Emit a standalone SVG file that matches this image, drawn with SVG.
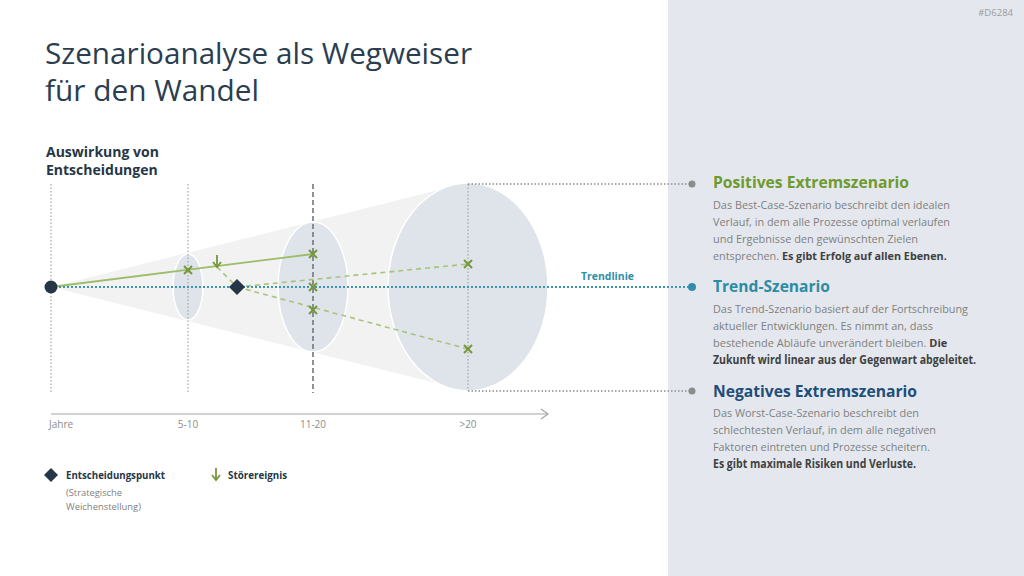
<svg xmlns="http://www.w3.org/2000/svg" width="1024" height="576" viewBox="0 0 1024 576">
<style>
.t{font-family:"Open Sans","Liberation Sans",sans-serif}
.title{font-size:29.5px;fill:#2B3E50}
.h{font-size:14px;font-weight:bold;fill:#253746}
.ax{font-size:10px;fill:#8C8C8C}
.body{font-size:11.5px;fill:#7F7F7F}
.b{font-weight:bold;fill:#404040}
.sh{font-size:16.5px;font-weight:bold}
.vdot{stroke:#A6A6A6;stroke-width:1.2;stroke-dasharray:1.5 2;fill:none}
.hdot{stroke:#8C8C8C;stroke-width:1.3;stroke-dasharray:1.5 2;fill:none}
.ell{fill:#DFE4EB;stroke:#FFFFFF;stroke-width:1.5}
.cross{stroke:#76963A;stroke-width:2}
.gd{stroke:#A9C47A;stroke-width:1.6;stroke-dasharray:5 4;fill:none}
</style>
<defs>
<g id="x"><line class="cross" x1="-4" y1="-4" x2="4" y2="4"/><line class="cross" x1="-4" y1="4" x2="4" y2="-4"/></g>
<g id="arr"><line x1="0" y1="0" x2="0" y2="12" stroke="#76963A" stroke-width="1.8"/><polyline points="-4,7 0,12 4,7" fill="none" stroke="#76963A" stroke-width="1.8"/></g>
</defs>
<rect x="0" y="0" width="1024" height="576" fill="#FFFFFF"/>
<rect id="panel" x="668" y="0" width="356" height="576" fill="#E4E8EE"/>
<text class="t" x="1013" y="16" font-size="9.5" fill="#9A9A9A" text-anchor="end">#D6284</text>
<g id="title">
<text class="t title" x="45" y="64" textLength="427" lengthAdjust="spacingAndGlyphs">Szenarioanalyse als Wegweiser</text>
<text class="t title" x="45" y="101" textLength="214" lengthAdjust="spacingAndGlyphs">für den Wandel</text>
</g>
<g id="ylabel">
<text class="t h" x="46" y="157">Auswirkung von</text>
<text class="t h" x="46" y="175">Entscheidungen</text>
</g>
<g id="cone">
<polygon points="51,287 462,184 468,391" fill="#F2F2F2"/>
<ellipse class="ell" cx="188" cy="287" rx="15" ry="33"/>
<ellipse class="ell" cx="313" cy="287" rx="35" ry="65"/>
<ellipse class="ell" cx="468" cy="287" rx="80" ry="104"/>
</g>
<g id="connectors">
<line class="vdot" x1="51" y1="184" x2="51" y2="393"/>
<line class="vdot" x1="188" y1="184" x2="188" y2="393"/>
<line x1="313" y1="184" x2="313" y2="393" stroke="#6F7780" stroke-width="1.6" stroke-dasharray="5 3"/>
<line class="vdot" x1="468" y1="184" x2="468" y2="391"/>
<line class="hdot" x1="468" y1="184" x2="692" y2="184"/>
<line class="hdot" x1="468" y1="391" x2="692" y2="391"/>
<circle cx="692" cy="184" r="3.5" fill="#8C8C8C"/>
<circle cx="692" cy="391" r="3.5" fill="#8C8C8C"/>
<line x1="51" y1="287" x2="313" y2="254" stroke="#9DBD68" stroke-width="1.8"/>
<line class="gd" x1="217" y1="267" x2="237" y2="287"/>
<line class="gd" x1="237" y1="287" x2="468" y2="264"/>
<line class="gd" x1="237" y1="287" x2="468" y2="349"/>
<line x1="51" y1="287" x2="692" y2="287" stroke="#3A97AE" stroke-width="2" stroke-dasharray="2 2"/>
<circle cx="692" cy="287" r="4" fill="#2F8FA8"/>
<line x1="51" y1="414" x2="548" y2="414" stroke="#A6A6A6" stroke-width="1.2"/>
<polyline points="541,409 548,414 541,419" fill="none" stroke="#A6A6A6" stroke-width="1.2"/>
</g>
<g id="markers">
<circle cx="51" cy="287" r="6.5" fill="#253746"/>
<use href="#x" x="188" y="270"/>
<use href="#x" x="313" y="254"/>
<use href="#x" x="313" y="287"/>
<use href="#x" x="313" y="310"/>
<use href="#x" x="468" y="264"/>
<use href="#x" x="468" y="349"/>
<use href="#arr" x="217" y="255"/>
<polygon points="237,279 245,287 237,295 229,287" fill="#253746"/>
</g>
<text class="t" x="581" y="280" font-size="10.5" font-weight="bold" fill="#2F8FA8" textLength="53" lengthAdjust="spacingAndGlyphs">Trendlinie</text>
<g id="axislabels">
<text class="t ax" x="49" y="428">Jahre</text>
<text class="t ax" x="188" y="428" text-anchor="middle">5-10</text>
<text class="t ax" x="313" y="428" text-anchor="middle">11-20</text>
<text class="t ax" x="468" y="428" text-anchor="middle">&gt;20</text>
</g>
<g id="legend">
<polygon points="51,468 58,475 51,482 44,475" fill="#253746"/>
<text class="t" x="66" y="479" font-size="10.5" font-weight="bold" fill="#253746" textLength="99" lengthAdjust="spacingAndGlyphs">Entscheidungspunkt</text>
<text class="t" x="66" y="496" font-size="9.5" fill="#7F7F7F" textLength="56" lengthAdjust="spacingAndGlyphs">(Strategische</text>
<text class="t" x="66" y="510" font-size="9.5" fill="#7F7F7F" textLength="75" lengthAdjust="spacingAndGlyphs">Weichenstellung)</text>
<use href="#arr" x="216" y="468"/>
<text class="t" x="228" y="479" font-size="10.5" font-weight="bold" fill="#253746" textLength="59" lengthAdjust="spacingAndGlyphs">Störereignis</text>
</g>
<g id="positive">
<text class="t sh" x="713" y="188" fill="#6E9A2E" textLength="196" lengthAdjust="spacingAndGlyphs">Positives Extremszenario</text>
<text class="t body" x="713" y="209" textLength="237" lengthAdjust="spacingAndGlyphs">Das Best-Case-Szenario beschreibt den idealen</text>
<text class="t body" x="713" y="226" textLength="237" lengthAdjust="spacingAndGlyphs">Verlauf, in dem alle Prozesse optimal verlaufen</text>
<text class="t body" x="713" y="243" textLength="205" lengthAdjust="spacingAndGlyphs">und Ergebnisse den gewünschten Zielen</text>
<text class="t body" x="713" y="260" style="font-size:10.8px">entsprechen. <tspan class="b">Es gibt Erfolg auf allen Ebenen.</tspan></text>
</g>
<g id="trend">
<text class="t sh" x="713" y="292" fill="#2C8CA3" textLength="117" lengthAdjust="spacingAndGlyphs">Trend-Szenario</text>
<text class="t body" x="713" y="313" textLength="255" lengthAdjust="spacingAndGlyphs">Das Trend-Szenario basiert auf der Fortschreibung</text>
<text class="t body" x="713" y="330" textLength="220" lengthAdjust="spacingAndGlyphs">aktueller Entwicklungen. Es nimmt an, dass</text>
<text class="t body" x="713" y="347" style="font-size:11px">bestehende Abläufe unverändert bleiben. <tspan class="b">Die</tspan></text>
<text class="t body b" x="713" y="364" textLength="263" lengthAdjust="spacingAndGlyphs">Zukunft wird linear aus der Gegenwart abgeleitet.</text>
</g>
<g id="negative">
<text class="t sh" x="713" y="397" fill="#1F4E79" textLength="204" lengthAdjust="spacingAndGlyphs">Negatives Extremszenario</text>
<text class="t body" x="713" y="417" textLength="206" lengthAdjust="spacingAndGlyphs">Das Worst-Case-Szenario beschreibt den</text>
<text class="t body" x="713" y="434" textLength="223" lengthAdjust="spacingAndGlyphs">schlechtesten Verlauf, in dem alle negativen</text>
<text class="t body" x="713" y="451" textLength="217" lengthAdjust="spacingAndGlyphs">Faktoren eintreten und Prozesse scheitern.</text>
<text class="t body b" x="713" y="468" textLength="203" lengthAdjust="spacingAndGlyphs">Es gibt maximale Risiken und Verluste.</text>
</g>
</svg>
